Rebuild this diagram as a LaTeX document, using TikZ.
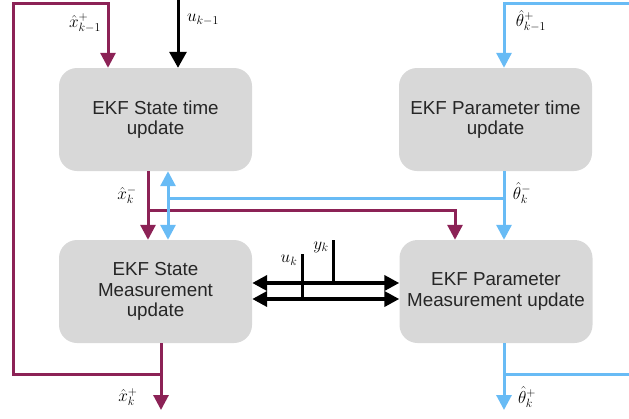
\documentclass[tikz,border=0pt]{standalone}
\usepackage{fontspec}
\setmainfont{Liberation Sans}
\usetikzlibrary{arrows.meta}
\definecolor{magc}{RGB}{140,34,86}
\definecolor{bluc}{RGB}{104,187,245}
\definecolor{boxc}{RGB}{216,216,216}
\tikzset{
  box/.style={fill=boxc, draw=none, rounded corners=18pt, minimum width=193pt, minimum height=103pt,
    align=center, text=black!85, font=\fontsize{18.8}{20.5}\selectfont, inner sep=0pt},
  magl/.style={draw=magc, line width=3pt, line join=miter},
  blul/.style={draw=bluc, line width=3pt, line join=miter},
  blkl/.style={draw=black, line width=3pt},
  blk2/.style={draw=black, line width=4pt},
  tip/.style={-{Triangle[length=15pt,width=15pt]}},
  tipk1/.style={-{Triangle[length=16pt,width=17pt]}},
  tipb/.style={{Triangle[length=15pt,width=15pt]}-{Triangle[length=15pt,width=15pt]}},
  tipk/.style={{Triangle[length=15pt,width=15pt]}-{Triangle[length=15pt,width=15pt]}},
  lab/.style={inner sep=0pt, font=\fontsize{17.5}{19}\selectfont}
}
\begin{document}
\begin{tikzpicture}[x=1pt,y=-1pt]
\useasboundingbox (0,0) rectangle (629,418);
% boxes
\node[box] (A) at (155.5,119.5) {EKF State time\\update};
\node[box] (B) at (495.5,119.5) {EKF Parameter time\\update};
\node[box] (C) at (155.5,291.5) {EKF State\\Measurement\\update};
\node[box] (D) at (496,291.5) {EKF Parameter\\Measurement update};
% helper coordinates
\coordinate (xA) at (108,0);
\coordinate (xU) at (178,0);
\coordinate (xAm) at (148,0);
\coordinate (xAb) at (168,0);
\coordinate (xCm) at (161,0);
\coordinate (xDm) at (455,0);
\coordinate (xB) at (504,0);
\coordinate (uTop) at (178,-3);
\coordinate (mBr) at (161,374);
\coordinate (mEnd) at (161,410);
\coordinate (mL1) at (13,374);
\coordinate (mL2) at (13,3);
\coordinate (mL3) at (108,3);
\coordinate (mJ) at (148,210);
\coordinate (mJ2) at (455,210);
\coordinate (bJ) at (504,198);
\coordinate (bJ2) at (168,198);
\coordinate (bBr) at (504,374);
\coordinate (bEnd) at (504,410);
\coordinate (bR1) at (633,374);
\coordinate (bR2) at (633,3);
\coordinate (bR3) at (504,3);
\coordinate (yU) at (0,283);
\coordinate (yL) at (0,299);
\coordinate (ukTop) at (302,254);
\coordinate (ukBot) at (302,299);
\coordinate (ykTop) at (333,240);
\coordinate (ykBot) at (333,283);
% magenta
\draw[magl,tip] (C.south -| xCm) -- (mEnd);
\draw[magl,tip] (mBr) -- (mL1) -- (mL2) -- (mL3) -- (A.north -| xA);
\draw[magl,tip] (A.south -| xAm) -- (C.north -| xAm);
\draw[magl,tip] (mJ) -- (mJ2) -- (D.north -| xDm);
% black input
\draw[blkl,tipk1] (uTop) -- (A.north -| xU);
% blue
\draw[blul,tip] (B.south -| xB) -- (D.north -| xB);
\draw[blul] (bJ) -- (bJ2);
\draw[blul,tipb] (A.south -| xAb) -- (C.north -| xAb);
\draw[blul,tip] (D.south -| xB) -- (bEnd);
\draw[blul,tip] (bBr) -- (bR1) -- (bR2) -- (bR3) -- (B.north -| xB);
% black double arrows
\draw[blk2,tipk] (C.east |- yU) -- (D.west |- yU);
\draw[blk2,tipk] (C.east |- yL) -- (D.west |- yL);
\draw[blkl] (ukTop) -- (ukBot);
\draw[blkl] (ykTop) -- (ykBot);
% labels
\node[lab] (l1) at (85,23) {$\hat{x}^{+}_{k-1}$};
\node[lab] (l2) at (203,20) {$u_{k-1}$};
\node[lab] (l3) at (127,195) {$\hat{x}^{-}_{k}$};
\node[lab] (l4) at (522,193) {$\hat{\theta}^{-}_{k}$};
\node[lab] (l5) at (531,21) {$\hat{\theta}^{+}_{k-1}$};
\node[lab] (l6) at (289,260) {$u_k$};
\node[lab] (l7) at (321,247) {$y_k$};
\node[lab] (l8) at (128,397) {$\hat{x}^{+}_{k}$};
\node[lab] (l9) at (527,397) {$\hat{\theta}^{+}_{k}$};
\end{tikzpicture}
\end{document}
